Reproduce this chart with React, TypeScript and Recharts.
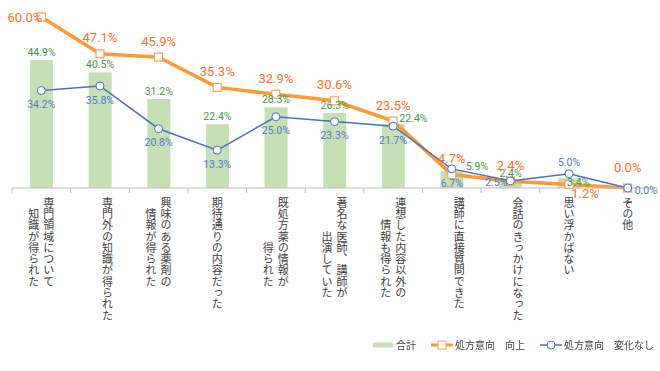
import React from 'react';
import { ComposedChart, Bar, Line, XAxis, YAxis, LabelList, Legend } from 'recharts';

// categories: "\n" separates the vertical columns (right column first)
const categories = [
  '専門領域について\n知識が得られた',
  '専門外の知識が得られた\n',
  '興味のある薬剤の\n情報が得られた',
  '期待通りの内容だった',
  '既処方薬の情報が\n得られた',
  '著名な医師、講師が\n出演していた',
  '連想した内容以外の\n情報も得られた',
  '講師に直接質問できた\n',
  '会話のきっかけになった\n',
  '思い浮かばない',
  'その他',
];
const total = [44.9, 40.5, 31.2, 22.4, 28.3, 26.3, 22.4, 5.9, 2.4, 3.4, 0.0];
const improved = [60.0, 47.1, 45.9, 35.3, 32.9, 30.6, 23.5, 4.7, 2.4, 1.2, 0.0];
const unchanged = [34.2, 35.8, 20.8, 13.3, 25.0, 23.3, 21.7, 6.7, 2.5, 5.0, 0.0];

// where each data label sits
const totalPos = ['top', 'top', 'top', 'top', 'top', 'top', 'right', 'farRight', 'top', 'inside', 'top'];
const improvedPos = ['left', 'top', 'top', 'top', 'top', 'top', 'top', 'top', 'top', 'belowRight', 'topHigh'];
const unchangedPos = ['bottom', 'bottom', 'bottom', 'bottom', 'bottom', 'bottom', 'bottom', 'bottom', 'left', 'top', 'right'];

const data = categories.map((name, i) => ({
  name,
  total: total[i],
  improved: improved[i],
  unchanged: unchanged[i],
}));

const W = 660;
const H = 371;
const M = { top: 17, right: 3, left: 12, bottom: 0 };
const BAND = (W - M.left - M.right) / categories.length;
const NUM_FONT = 'Roboto, "Noto Sans CJK JP", sans-serif';
const JP_FONT = '"Noto Sans CJK JP", sans-serif';

type Off = { dx: number; dy: number; anchor: 'start' | 'middle' | 'end' };

const totalOff: Record<string, Off> = {
  top: { dx: 0, dy: -8, anchor: 'middle' },
  right: { dx: 6, dy: -6, anchor: 'start' },
  farRight: { dx: 14, dy: -5, anchor: 'start' },
  inside: { dx: 9, dy: 4, anchor: 'middle' },
};
const improvedOff: Record<string, Off> = {
  top: { dx: 0, dy: -16, anchor: 'middle' },
  topHigh: { dx: 0, dy: -21, anchor: 'middle' },
  left: { dx: 1, dy: 0, anchor: 'end' },
  belowRight: { dx: 16, dy: 9, anchor: 'middle' },
};
const unchangedOff: Record<string, Off> = {
  bottom: { dx: 0, dy: 14, anchor: 'middle' },
  top: { dx: 0, dy: -11, anchor: 'middle' },
  left: { dx: -3, dy: 1, anchor: 'end' },
  right: { dx: 7, dy: 2, anchor: 'start' },
};

const makeLabel = (
  pos: string[],
  offs: Record<string, Off>,
  color: string,
  size: number,
  isBar = false
) => (props: any) => {
  const { x, y, width, value, index } = props;
  const o = offs[pos[index]];
  const cx = isBar ? x + width / 2 : x;
  return (
    <text
      x={cx + o.dx}
      y={y + o.dy + size * 0.35}
      textAnchor={o.anchor}
      fill={color}
      fontSize={size}
      fontFamily={NUM_FONT}
    >
      {`${Number(value).toFixed(1)}%`}
    </text>
  );
};

const CategoryTick = (props: any) => {
  const { x, y, payload, index } = props;
  const cols = String(payload.value).split('\n');
  const step = 11.3;
  const longest = Math.max(...cols.map((c) => c.length));
  return (
    <g>
      <line x1={x - BAND / 2} x2={x - BAND / 2} y1={y} y2={y + 5} stroke="#BFBFBF" />
      {index === categories.length - 1 && (
        <line x1={x + BAND / 2} x2={x + BAND / 2} y1={y} y2={y + 5} stroke="#BFBFBF" />
      )}
      {cols.map((c, i) => (
        <text
          key={i}
          x={x + (cols.length - 1) * 7.5 - i * 15}
          y={y + 9 + (longest - c.length) * step}
          fill="#404040"
          fontSize={11}
          fontFamily={JP_FONT}
          style={{ writingMode: 'vertical-rl', letterSpacing: 0.3 }}
        >
          {c}
        </text>
      ))}
    </g>
  );
};

const LegendContent = () => (
  <div style={{ display: 'flex', alignItems: 'center', fontFamily: JP_FONT, fontSize: 10, color: '#404040', whiteSpace: 'nowrap' }}>
    <svg width={22} height={10}>
      <rect x={0} y={2.5} width={20} height={5} fill="#C5E0B4" />
    </svg>
    <span style={{ marginLeft: 1 }}>合計</span>
    <svg width={24} height={10} style={{ marginLeft: 15 }}>
      <line x1={0} x2={22} y1={5} y2={5} stroke="#FF9933" strokeWidth={3} />
      <rect x={7} y={1} width={8} height={8} fill="#fff" stroke="#F7A35C" />
    </svg>
    <span>処方意向　向上</span>
    <svg width={24} height={10} style={{ marginLeft: 15 }}>
      <line x1={0} x2={22} y1={5} y2={5} stroke="#4472C4" strokeWidth={1.5} />
      <circle cx={11} cy={5} r={4} fill="#fff" stroke="#4472C4" />
    </svg>
    <span>処方意向　変化なし</span>
  </div>
);

const App: React.FC = () => {
  return (
    <div style={{ position: 'fixed', left: 0, top: 0, width: W, height: H, background: '#fff' }}>
      <ComposedChart width={W} height={H} data={data} margin={M}>
        <XAxis
          dataKey="name"
          interval={0}
          height={H - 188}
          stroke="#BFBFBF"
          tickLine={false}
          tickSize={0}
          tickMargin={0}
          tick={<CategoryTick />}
        />
        <YAxis hide domain={[0, 60]} />
        <Legend
          layout="horizontal"
          align="center"
          verticalAlign="middle"
          content={<LegendContent />}
          wrapperStyle={{ position: 'absolute', left: 373, top: 337 }}
        />
        <Bar dataKey="total" name="合計" fill="#C5E0B4" barSize={23} isAnimationActive={false}>
          <LabelList dataKey="total" content={makeLabel(totalPos, totalOff, '#3E9B47', 10.5, true)} />
        </Bar>
        <Line
          dataKey="improved"
          name="処方意向　向上"
          stroke="#FF9933"
          strokeWidth={3.5}
          isAnimationActive={false}
          dot={(p: any) => (
            <rect
              key={`sq-${p.index}`}
              x={p.cx - 4}
              y={p.cy - 4}
              width={8}
              height={8}
              fill="#fff"
              stroke="#F7A35C"
              strokeWidth={1.2}
            />
          )}
        >
          <LabelList dataKey="improved" content={makeLabel(improvedPos, improvedOff, '#FF6F1F', 13)} />
        </Line>
        <Line
          dataKey="unchanged"
          name="処方意向　変化なし"
          stroke="#4472C4"
          strokeWidth={1.5}
          isAnimationActive={false}
          dot={{ r: 4, fill: '#fff', stroke: '#4472C4', strokeWidth: 1 }}
        >
          <LabelList dataKey="unchanged" content={makeLabel(unchangedPos, unchangedOff, '#5179C9', 10.5)} />
        </Line>
      </ComposedChart>
    </div>
  );
};

export default App;
